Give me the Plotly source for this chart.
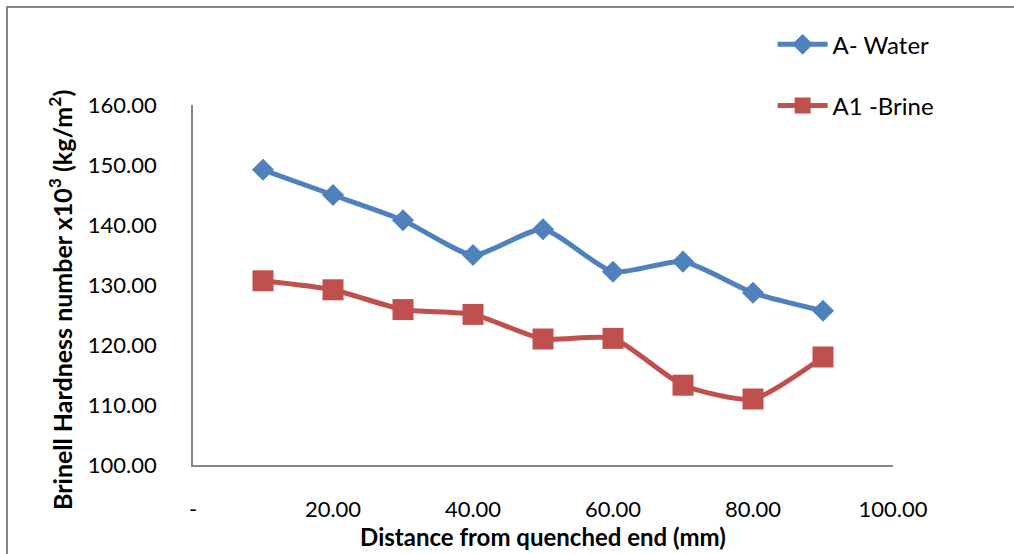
import plotly.graph_objects as go

distance = [10, 20, 30, 40, 50, 60, 70, 80, 90]
water = [149.2, 145.0, 140.8, 135.0, 139.3, 132.2, 133.9, 128.7, 125.7]
brine = [130.7, 129.2, 125.9, 125.1, 121.0, 121.1, 113.3, 111.0, 118.0]

x_tickvals = [0, 20, 40, 60, 80, 100]
x_ticktext = ["-", "20.00", "40.00", "60.00", "80.00", "100.00"]
y_tickvals = [100, 110, 120, 130, 140, 150, 160]
y_ticktext = ["100.00", "110.00", "120.00", "130.00", "140.00", "150.00", "160.00"]

BLUE = "#4F81BD"
RED = "#C0504D"
FONT = "Lato"

fig = go.Figure()
fig.add_trace(go.Scatter(
    x=distance, y=water, name="A- Water", mode="lines+markers",
    line=dict(color=BLUE, width=5, shape="spline", smoothing=0.6),
    marker=dict(symbol="diamond", size=17, color=BLUE),
    legendgroup="a",
))
fig.add_trace(go.Scatter(
    x=distance, y=brine, name="A1 -Brine", mode="lines+markers",
    line=dict(color=RED, width=5, shape="spline", smoothing=0.6),
    marker=dict(symbol="square", size=21, color=RED),
    legendgroup="b",
))

fig.update_layout(
    width=1014, height=554,
    margin=dict(l=193, r=121, t=105, b=89, autoexpand=False),
    paper_bgcolor="white", plot_bgcolor="white",
    font=dict(family=FONT, color="#000000", size=22),
    showlegend=True,
    legend=dict(
        x=0.828, y=1.23, xanchor="left", yanchor="top",
        font=dict(family=FONT, size=24, color="#000000"),
        itemwidth=50, tracegroupgap=27, traceorder="grouped",
        bgcolor="rgba(0,0,0,0)",
    ),
    xaxis=dict(
        range=[0, 100], tickvals=x_tickvals, ticktext=x_ticktext,
        showgrid=False, zeroline=False, showline=True, linecolor="#868686", linewidth=1.5,
        ticks="outside", ticklen=24, tickcolor="rgba(0,0,0,0)",
        tickfont=dict(family=FONT, size=22), automargin=False,
        title=dict(text="<b>Distance from quenched end (mm)</b>", font=dict(family=FONT, size=24), standoff=8),
    ),
    yaxis=dict(
        range=[100, 160], tickvals=y_tickvals, ticktext=y_ticktext,
        showgrid=False, zeroline=False, showline=True, linecolor="#868686", linewidth=1.5,
        ticks="outside", ticklen=30, tickcolor="rgba(0,0,0,0)",
        tickfont=dict(family=FONT, size=22), automargin=False,
    ),
    annotations=[dict(
        text="<b>Brinell Hardness number x10<sup>3</sup> (kg/m<sup>2</sup>)</b>",
        font=dict(family=FONT, size=25, color="#000000"),
        textangle=-90, showarrow=False,
        xref="paper", yref="paper",
        x=(60 - 193) / 700, y=(465 - 300) / 360,
        xanchor="center", yanchor="middle",
    )],
    shapes=[dict(type="rect", xref="paper", yref="paper",
                 x0=(7 - 193) / 700, x1=(1030 - 193) / 700,
                 y0=(465 - 570) / 360, y1=(465 - 7) / 360,
                 line=dict(color="#868686", width=2), fillcolor="rgba(0,0,0,0)", layer="below")],
)

fig.write_html("out.html")
